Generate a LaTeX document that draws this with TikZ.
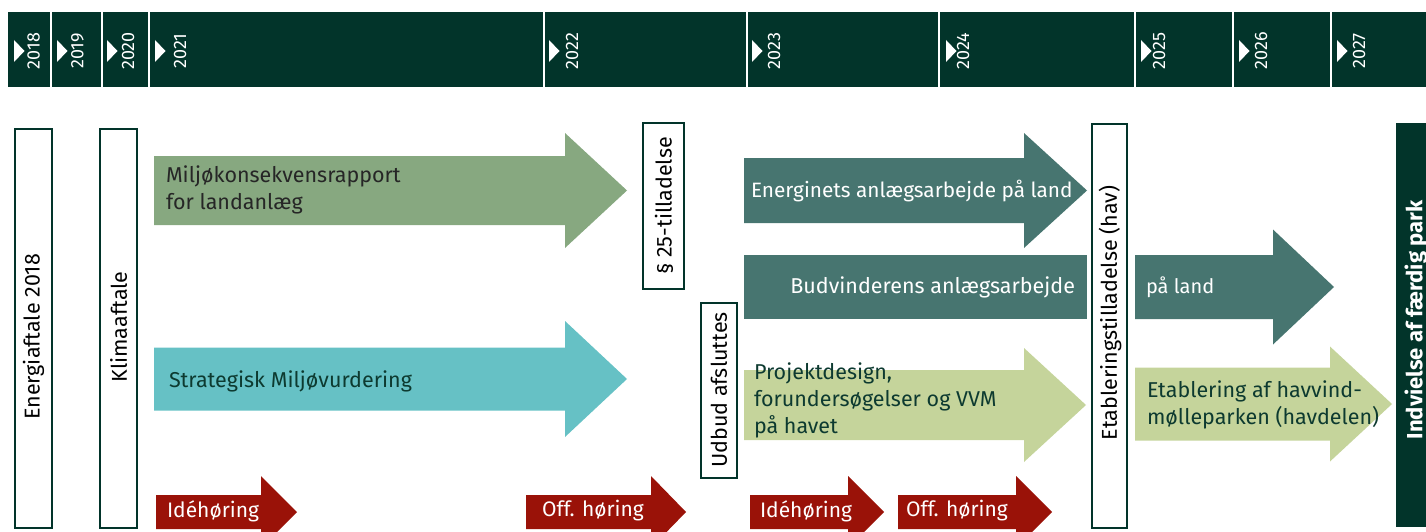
\documentclass[tikz,border=0pt]{standalone}
\usepackage{fontspec}
\setmainfont{Fira Sans}
\definecolor{hdr}{HTML}{02342A}
\definecolor{cSage}{HTML}{87A880}
\definecolor{cTeal}{HTML}{66C1C5}
\definecolor{cDeep}{HTML}{477570}
\definecolor{cLight}{HTML}{C5D49B}
\definecolor{cRed}{HTML}{9A1208}
\definecolor{cInk}{HTML}{0D3A30}
\newcommand\blockarrow[7]{%
  \fill[#7] (#1,{#4-#5}) -- (#2,{#4-#5}) -- (#2,{#4-#6}) -- (#3,#4) -- (#2,{#4+#6}) -- (#2,{#4+#5}) -- (#1,{#4+#5}) -- cycle;}
\begin{document}
\begin{tikzpicture}[x=1pt,y=-1pt,
  every node/.style={inner sep=0pt, outer sep=0pt},
  yr/.style={rotate=90, text=white, font=\fontsize{18}{18}\selectfont},
  sep/.style={draw=white, line width=1.5pt},
  tri/.style={fill=white},
  vbox/.style={draw=hdr, line width=2.5pt, fill=white},
  vtext/.style={rotate=90, text=black, font=\fontsize{21.5}{21.5}\selectfont},
  atext/.style={font=\fontsize{21.5}{26.5}\selectfont, align=left},
  rtext/.style={font=\fontsize{21}{21}\selectfont, text=white, anchor=west}]
\useasboundingbox (0,0) rectangle (1426,532);
% header
\fill[hdr] (8,12) rectangle (1426,87);
\foreach \x in {51,102,149,544,747,939,1135,1233,1331}
  \draw[sep] (\x,12) -- (\x,87);
\foreach \t/\c/\yy in {14/33.5/2018,57/77.5/2019,107/128/2020,155/180/2021,549/572/2022,752/774/2023,946/963/2024,1141/1159/2025,1239/1261/2026,1337/1359/2027}{
  \fill[tri] (\t,40) -- (\t+10.5,51) -- (\t,62) -- cycle;
  \node[yr] (y\yy) at (\c,51) {\yy};
}
% vertical boxes
\draw[vbox] (15,129) rectangle (52,528);
\node[vtext] (energi) at (33.5,337) {Energiaftale 2018};
\draw[vbox] (100,129) rectangle (137,528);
\node[vtext] (klima) at (118.5,327) {Klimaaftale};
\draw[vbox] (643,123) rectangle (684,289);
\node[vtext] (par25) at (664,206) {§ 25-tilladelse};
\draw[vbox] (701,303) rectangle (737,478);
\node[vtext] (udbud) at (719,390) {Udbud afsluttes};
\draw[vbox] (1092,124) rectangle (1127,528);
\node[vtext] (etabl) at (1110,313) {Etableringstilladelse (hav)};
\fill[hdr] (1396,123) rectangle (1430,527);
\node[vtext, text=white, font=\fontsize{22}{22}\selectfont\bfseries] (indv) at (1416,320) {Indvielse af færdig park};
% big arrows
\blockarrow{154}{565}{627}{190.5}{34.5}{57.5}{cSage}
\node[atext, anchor=west, text=black!85] (miljo) at (166,190) {Miljøkonsekvensrapport\\for landanlæg};
\blockarrow{154}{565}{627}{379}{31.5}{58}{cTeal}
\node[atext, anchor=west, text=cInk] (sma) at (169,381) {Strategisk Miljøvurdering};
\blockarrow{744}{1024}{1087}{190.5}{32.5}{57.5}{cDeep}
\node[atext, anchor=west, text=white, font=\fontsize{20.8}{26}\selectfont] (energinet) at (751,191) {Energinets anlægsarbejde på land};
\fill[cDeep] (744,255) rectangle (1087,319);
\node[atext, anchor=east, text=white] (budv) at (1075,287) {Budvinderens anlægsarbejde};
\blockarrow{1135}{1273}{1334}{287}{32}{57.5}{cDeep}
\node[atext, anchor=west, text=white, font=\fontsize{20}{26}\selectfont] (paland) at (1146,287) {på land};
\blockarrow{744}{1024}{1086}{405}{35}{57}{cLight}
\node[atext, anchor=west, text=cInk, font=\fontsize{21.5}{27}\selectfont] (projekt) at (754,400) {Projektdesign,\\forundersøgelser og VVM\\på havet};
\blockarrow{1135}{1330}{1392}{404}{36.5}{57.5}{cLight}
\node[atext, anchor=west, text=cInk] (etabhav) at (1147,405) {Etablering af havvind-\\mølleparken (havdelen)};
% red arrows
\blockarrow{156}{261}{297}{512}{17}{36}{cRed}
\node[rtext] (ide1) at (167,511) {Idéhøring};
\blockarrow{526}{651}{686}{512}{17}{36}{cRed}
\node[rtext] (off1) at (542,511) {Off. høring};
\blockarrow{750}{848}{884}{512}{17}{36}{cRed}
\node[rtext] (ide2) at (760,511) {Idéhøring};
\blockarrow{898}{1016}{1052}{512}{17}{36}{cRed}
\node[rtext] (off2) at (906,511) {Off. høring};
\end{tikzpicture}
\end{document}
